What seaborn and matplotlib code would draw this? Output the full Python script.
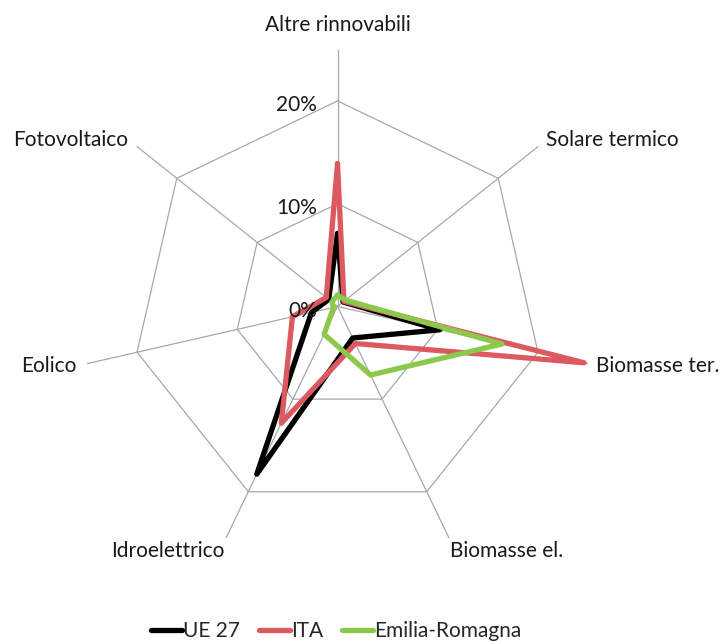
import numpy as np
import pandas as pd
import seaborn as sns
import matplotlib
matplotlib.use('Agg')
import matplotlib.pyplot as plt

# categories, clockwise from the top
categories = ['Altre rinnovabili', 'Solare termico', 'Biomasse ter.', 'Biomasse el.',
              'Idroelettrico', 'Eolico', 'Fotovoltaico']
# shares in %
ue27 = [7.1, 0.7, 10.2, 3.4, 18.1, 2.6, 1.1]
ita = [13.9, 0.8, 24.6, 4.0, 12.6, 4.5, 1.4]
emilia = [1.1, 1.0, 16.4, 7.4, 3.0, 0.4, 0.7]
series = ['UE 27', 'ITA', 'Emilia-Romagna']
colors = ['#000000', '#DC5A5F', '#8CC84B']
ring_values = [10, 20]
tick_values = [0, 10, 20]
r_max = 25


def build_frame():
    n = len(categories)
    theta = [2 * np.pi * i / n for i in range(n)] + [2 * np.pi]
    rows = []
    for name, vals in zip(series, [ue27, ita, emilia]):
        closed = list(vals) + [vals[0]]
        for t, v in zip(theta, closed):
            rows.append({'theta': t, 'value': v, 'serie': name})
    return pd.DataFrame(rows), theta


df, theta = build_frame()

sns.set_theme(style='white')
plt.rcParams['font.family'] = ['Lato', 'DejaVu Sans']
fs = 15

fig = plt.figure(figsize=(7.26, 6.41), dpi=100)
ax = fig.add_axes([0.1109, 0.1209, 0.708, 0.8019], projection='polar')
ax.set_theta_zero_location('N')
ax.set_theta_direction(-1)
ax.grid(False)
ax.spines['polar'].set_visible(False)

# straight polygon grid like Excel's radar chart
grid_kw = dict(color='#a8a8a8', lw=0.9, zorder=1)
for rv in ring_values:
    ax.plot(theta, [rv] * len(theta), **grid_kw)
for t in theta[:-1]:
    ax.plot([t, t], [0, r_max], **grid_kw)

sns.lineplot(data=df, x='theta', y='value', hue='serie', sort=False,
             palette=colors, lw=3.8, ax=ax, zorder=3)

ax.set_ylim(0, r_max)
ax.set_xticks([])
ax.set_yticks([])
ax.set_xlabel('')
ax.set_ylabel('')

# category labels
label_pos = [
    (27.4, 'center', 'center'),
    (26.0, 'left', 'center'),
    (25.8, 'left', 'center'),
    (25.3, 'left', 'top'),
    (25.3, 'right', 'top'),
    (26.0, 'right', 'center'),
    (26.0, 'right', 'center'),
]
for t, cat, (r, ha, va) in zip(theta, categories, label_pos):
    ax.text(t, r, cat, ha=ha, va=va, fontsize=fs, color='#1a1a1a')

for v in tick_values:
    ax.annotate('%d%%' % v, xy=(0, v), xytext=(-15, -3), textcoords='offset points',
                ha='right', va='center', fontsize=fs, color='#1a1a1a')

handles, labels = ax.get_legend_handles_labels()
ax.get_legend().remove()
fig.legend(handles, labels, loc='center', bbox_to_anchor=(336 / 726, 1 - 631 / 641),
           ncol=3, frameon=False, fontsize=fs, handlelength=1.5, handletextpad=0.05,
           columnspacing=0.9)

fig.savefig('out.png', dpi=100)
